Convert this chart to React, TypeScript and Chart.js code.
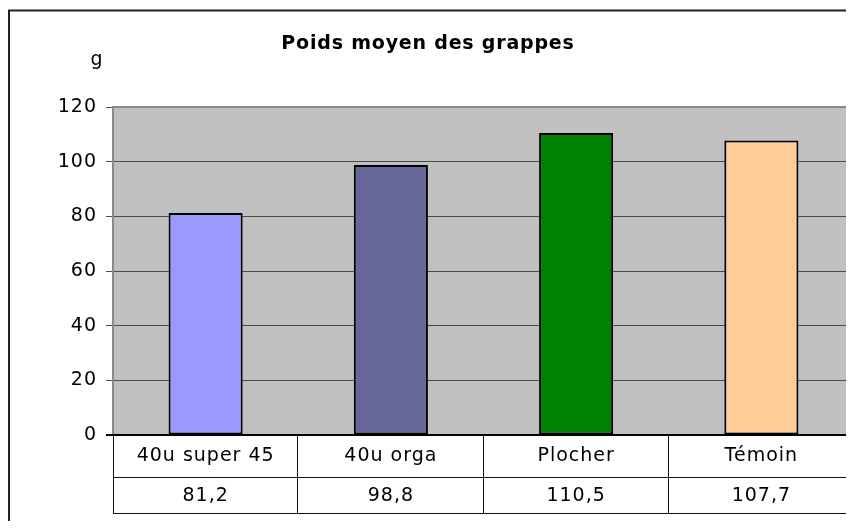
import React, { useEffect, useRef } from "react";
import { Chart, registerables } from "chart.js";

Chart.register(...registerables);

const titleText = "Poids moyen des grappes";
const unitLabel = "g";
const categories = ["40u super 45", "40u orga", "Plocher", "Témoin"];
const values = [81.2, 98.8, 110.5, 107.7];
const valueLabels = ["81,2", "98,8", "110,5", "107,7"];
const barColors = ["#9999FF", "#666699", "#008000", "#FFCC99"];
const yMin = 0;
const yMax = 120;
const yStep = 20;

const FONT = '"DejaVu Sans", sans-serif';

const decorPlugin = {
  id: "decor",
  beforeDraw(chart: any) {
    const ctx = chart.ctx;
    (ctx as any).letterSpacing = "1px";
    // outer frame
    ctx.save();
    ctx.strokeStyle = "#222";
    ctx.lineWidth = 2;
    ctx.strokeRect(1, 2.5, chart.width + 20, chart.height + 40);
    ctx.restore();
    // plot background
    const a = chart.chartArea;
    ctx.save();
    ctx.fillStyle = "#C0C0C0";
    ctx.fillRect(a.left, a.top, a.right - a.left, a.bottom - a.top);
    ctx.restore();
  },
  beforeDatasetsDraw(chart: any) {
    const ctx = chart.ctx;
    const a = chart.chartArea;
    ctx.save();
    ctx.strokeStyle = "#8a8a8a";
    ctx.lineWidth = 2;
    ctx.beginPath();
    ctx.moveTo(a.left, a.top);
    ctx.lineTo(a.right - 1, a.top);
    ctx.lineTo(a.right - 1, a.bottom);
    ctx.stroke();
    ctx.restore();
  },
  afterDraw(chart: any) {
    const ctx = chart.ctx;
    const a = chart.chartArea;
    const x = chart.scales.x;
    ctx.save();
    (ctx as any).letterSpacing = "0.8px";
    ctx.fillStyle = "#000";
    ctx.textAlign = "center";
    ctx.textBaseline = "middle";
    ctx.font = `bold 19px ${FONT}`;
    ctx.fillText(titleText, 420, 36);
    (ctx as any).letterSpacing = "1px";
    ctx.font = `19px ${FONT}`;
    ctx.fillText(unitLabel, 89, 52);

    // data table
    const rowMid = a.bottom + 42;
    const rowBot = a.bottom + 78;
    ctx.strokeStyle = "#111";
    ctx.lineWidth = 1;
    ctx.beginPath();
    ctx.moveTo(a.left + 0.5, a.bottom);
    ctx.lineTo(a.left + 0.5, rowBot + 0.5);
    ctx.moveTo(a.left, rowMid + 0.5);
    ctx.lineTo(a.right, rowMid + 0.5);
    ctx.moveTo(a.left, rowBot + 0.5);
    ctx.lineTo(a.right, rowBot + 0.5);
    const n = categories.length;
    const w = (a.right - a.left) / n;
    for (let i = 1; i <= n; i++) {
      const lx = Math.round(a.left + w * i) - 0.5;
      ctx.moveTo(lx, a.bottom);
      ctx.lineTo(lx, rowBot + 0.5);
    }
    ctx.stroke();
    // zero line
    ctx.strokeStyle = "#000";
    ctx.lineWidth = 2;
    ctx.beginPath();
    ctx.moveTo(a.left - 7, a.bottom);
    ctx.lineTo(a.right, a.bottom);
    ctx.stroke();
    ctx.font = `19px ${FONT}`;
    categories.forEach((c, i) => {
      const cx = x.getPixelForValue(i);
      ctx.fillText(c, cx, a.bottom + 21);
      ctx.fillText(valueLabels[i], cx, a.bottom + 61);
    });
    ctx.restore();
  },
};

export default function App() {
  const ref = useRef<HTMLCanvasElement | null>(null);
  useEffect(() => {
    if (!ref.current) return;
    const chart = new Chart(ref.current, {
      type: "bar",
      data: {
        labels: categories,
        datasets: [
          {
            data: values,
            backgroundColor: barColors,
            borderColor: "#000",
            borderWidth: 2,
            borderSkipped: false,
            barPercentage: 0.4,
            categoryPercentage: 1,
          },
        ],
      },
      options: {
        responsive: false,
        animation: false,
        devicePixelRatio: 1,
        layout: { padding: { left: 0, top: 99, right: 0, bottom: 86 } },
        plugins: {
          legend: { display: false },
          title: { display: false },
          tooltip: { enabled: false },
        },
        scales: {
          x: {
            display: false,
          },
          y: {
            min: yMin,
            max: yMax,
            ticks: {
              stepSize: yStep,
              color: "#000",
              padding: 9,
              font: { family: FONT, size: 19 },
            },
            grid: {
              color: "#4a4a4a",
              lineWidth: 1,
              tickLength: 7,
              drawOnChartArea: true,
            },
            border: { color: "#8a8a8a", width: 2 },
            afterFit: (s: any) => {
              s.width = 105;
            },
          },
        },
      },
      plugins: [decorPlugin],
    });
    return () => chart.destroy();
  }, []);
  return (
    <canvas
      ref={ref}
      width={846}
      height={513}
      style={{ display: "block", width: 846, height: 513 }}
    />
  );
}
